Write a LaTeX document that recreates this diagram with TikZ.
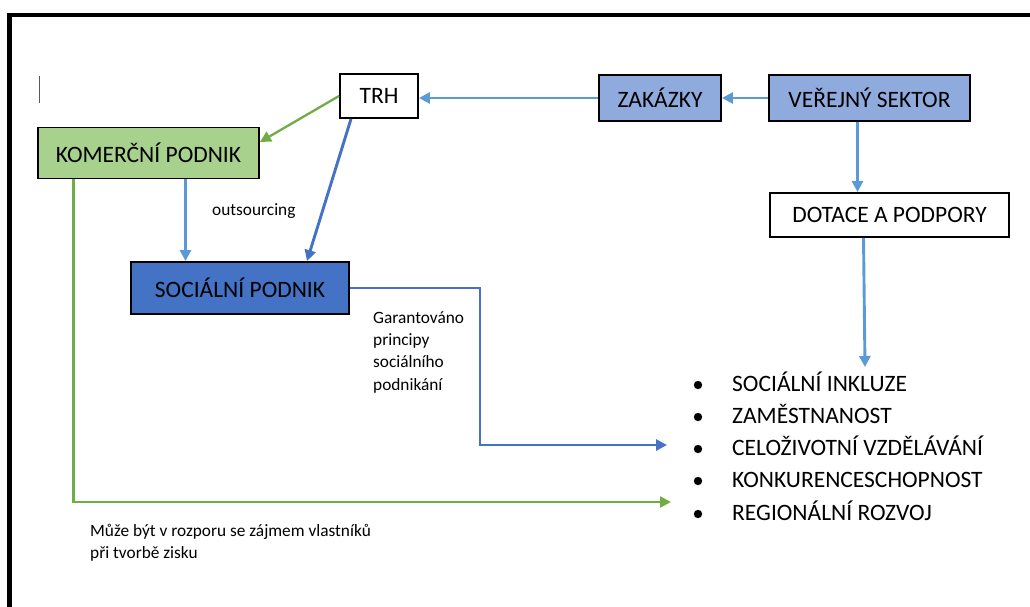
\documentclass[tikz,border=0pt]{standalone}
\usepackage{fontspec}
\setmainfont{Carlito}
\usepackage{tikz}
\usetikzlibrary{positioning, arrows.meta}

\definecolor{linkblue}{HTML}{5B9BD5}
\definecolor{darkblue}{HTML}{4472C4}
\definecolor{linkgreen}{HTML}{70AD47}
\definecolor{boxgreen}{HTML}{A9D18E}
\definecolor{boxblue}{HTML}{8FAADC}

\begin{document}
\begin{tikzpicture}[x=1pt, y=-1pt,
    box/.style={draw=black, line width=1.9pt, inner sep=0pt, minimum height=46pt,
        font=\fontsize{23.5}{28}\selectfont},
    item/.style={inner sep=0pt, anchor=base west, font=\fontsize{23.5}{28}\selectfont},
    note/.style={inner sep=0pt, align=left, anchor=north west, font=\fontsize{17.3}{22.4}\selectfont},
    lnk/.style={line width=2.9pt, -{Triangle[length=11pt, width=11pt]}}]
    \useasboundingbox (0,0) rectangle (1030,607);
    % frame
    \draw[line width=4pt] (7,15) -- (1030,15);
    \draw[line width=4.5pt] (9.7,13) -- (9.7,607);
    \draw[gray!70!black, line width=1pt] (39,76) -- (39,103);

    % boxes
    \node[box, minimum width=78pt, minimum height=44pt] (trh) at (379,96) {TRH};
    \node[box, fill=boxgreen, minimum width=221pt, minimum height=51pt] (komercni) at (148.5,153) {KOMERČNÍ PODNIK};
    \node[box, fill=darkblue, minimum width=218pt, minimum height=52pt] (socialni) at (240,288) {SOCIÁLNÍ PODNIK};
    \node[box, fill=boxblue, minimum width=122pt] (zakazky) at (660,98) {ZAKÁZKY};
    \node[box, fill=boxblue, minimum width=201pt] (verejny) at (869.5,98) {VEŘEJNÝ SEKTOR};
    \node[box, minimum width=239pt, minimum height=44pt] (dotace) at (889.5,215) {DOTACE A PODPORY};

    % list
    \node[item] (i1) at (732,391) {SOCIÁLNÍ INKLUZE};
    \node[item] (i2) at (732,423) {ZAMĚSTNANOST};
    \node[item] (i3) at (732,455) {CELOŽIVOTNÍ VZDĚLÁVÁNÍ};
    \node[item] (i4) at (732,487) {KONKURENCESCHOPNOST};
    \node[item] (i5) at (732,520) {REGIONÁLNÍ ROZVOJ};
    \foreach \y in {385,417,449,481,514}
        \fill (698,\y) circle (4.2pt);

    % notes
    \node[note, anchor=base west] (outs) at (212,215) {outsourcing};
    \node[note] (garant) at (373,311) {Garantováno\\principy\\sociálního\\podnikání};
    \node[note] (muze) at (90,524) {Může být v rozporu se zájmem vlastníků\\při tvorbě zisku};

    \coordinate (toplist) at (865,367);
    \coordinate (bend) at (480,445);
    \coordinate (tolearn) at (667,445);
    \coordinate (togrow) at (671,502);

    % connectors
    \draw[lnk, linkblue] (zakazky.west) -- (zakazky.west -| trh.east);
    \draw[lnk, linkblue] (verejny.west) -- (zakazky.east);
    \draw[lnk, linkblue] ([xshift=-12pt]verejny.south) -- ([xshift=-12pt]verejny.south |- dotace.north);
    \draw[lnk, linkblue] ([xshift=-26pt]dotace.south) -- (toplist);
    \draw[lnk, linkgreen, line width=2.3pt] (trh.west) -- ([yshift=11pt]komercni.east);
    \draw[lnk, darkblue] ([xshift=-28pt]trh.south) -- ([xshift=67pt]socialni.north);
    \draw[lnk, linkblue] ([xshift=37pt]komercni.south) -- ([xshift=37pt]komercni.south |- socialni.north);
    \draw[lnk, darkblue] (socialni.east) -| (bend) -- (tolearn);
    \draw[lnk, linkgreen, line width=2.3pt] ([xshift=-75pt]komercni.south) |- (togrow);
\end{tikzpicture}
\end{document}
